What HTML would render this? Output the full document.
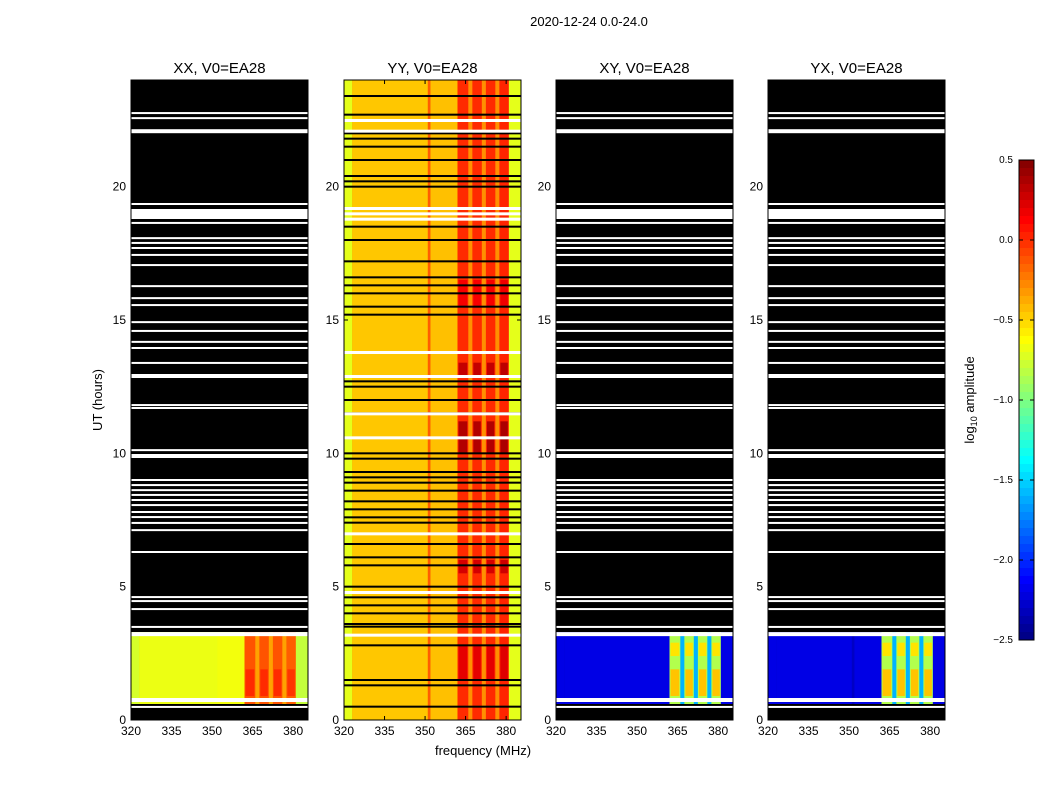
<!DOCTYPE html>
<html><head><meta charset="utf-8"><style>
body{margin:0;background:#fff;width:1050px;height:800px;overflow:hidden}
svg{display:block;font-family:"Liberation Sans","DejaVu Sans",sans-serif}
</style></head><body>
<svg id="fig" width="1050" height="800">
<text x="589" y="26" font-size="13" text-anchor="middle">2020-12-24 0.0-24.0</text>
<text x="483" y="755" font-size="13" text-anchor="middle">frequency (MHz)</text>
<text transform="translate(102,400) rotate(-90)" font-size="13" text-anchor="middle">UT (hours)</text>
<text transform="translate(974,400) rotate(-90)" font-size="13" text-anchor="middle">log<tspan font-size="9" dy="3">10</tspan><tspan dy="-3"> amplitude</tspan></text>
</svg>
<script>
const panelNames=["XX","YY","XY","YX"];
const bandEdges=[320,323,351,352,362,366,367.5,371,372.5,376,377.5,381,385.5];
const valXX=[-0.75,-0.68,-0.68,-0.66,-0.12,-0.35,-0.12,-0.35,-0.12,-0.35,-0.15,-0.8];
const valYY=[-0.7,-0.46,-0.15,-0.44,0.0,-0.3,0.0,-0.3,0.0,-0.3,0.02,-0.7];
const valXY=[-2.2,-2.2,-2.2,-2.2,-0.85,-1.6,-0.85,-1.6,-0.85,-1.6,-0.85,-2.2];
const valYX=[-2.2,-2.2,-2.3,-2.2,-0.85,-1.6,-0.85,-1.6,-0.85,-1.6,-0.85,-2.2];
const dataSpans=[[0.6,3.3],[0,24],[0.6,3.3],[0.6,3.3]];
const boostYY=[[10.0,11.2,0.35],[12.9,13.4,0.3],[5.5,6.0,0.25],[1.5,2.8,0.2],[15.5,16.5,0.15]];
const boostX=[[0.9,1.9,0.4],[2.4,2.9,0.3]];
const boostXX=[[0.9,1.9,0.12]];
const whiteLines=[22.76,22.57,22.08,19.35,19.05,18.9,18.64,18.07,17.89,17.7,17.44,17.06,16.27,15.82,15.56,14.92,14.59,14.18,13.95,13.39,12.9,11.81,11.7,10.12,9.9,9.0,8.81,8.62,8.44,8.25,8.06,7.8,7.61,7.39,7.12,6.3,4.61,4.46,4.16,3.49,3.22,0.75,0.49];
const whiteWidth=[1,1,2,1,3,3,1,1,1,1,1,1,1,1,1,1,1,1,1,1,2,1,1,1,2,1,1,1,1,1,1,1,1,1,1,1,1,1,1,1,2,2,1];
const blackYY=[0.5,1.3,1.5,2.8,3.5,3.6,4.0,4.3,4.6,5.0,5.8,6.1,6.6,7.4,7.6,7.9,8.2,8.6,8.9,9.1,9.3,9.8,10.0,11.5,12.0,12.5,12.7,15.2,15.5,16.0,16.3,16.6,17.2,18.0,18.5,20.0,20.2,20.4,21.0,21.5,21.8,22.0,22.7,23.4];
const whiteYY=[22.5,22.1,19.2,19.0,18.8,13.8,12.9,10.6,11.5,7.0,4.8,3.2];
const xTicks=[320,335,350,365,380];
const yTicks=[0,5,10,15,20];
const cbTicks=[0.5,0.0,-0.5,-1.0,-1.5,-2.0,-2.5];
const cbLabels=["0.5","0.0","\u22120.5","\u22121.0","\u22121.5","\u22122.0","\u22122.5"];
const panelLeft=[131,344,556,768];
const PW=177, PT=80, PB=720, FMIN=320, FMAX=385.5, TMAX=24;
const CB={x:1019,w:15,top:160,bot:640,vmin:-2.5,vmax:0.5};
const NS="http://www.w3.org/2000/svg";
const fig=document.getElementById("fig");
function mk(tag,attrs,parent){const e=document.createElementNS(NS,tag);for(const k in attrs)e.setAttribute(k,attrs[k]);(parent||fig).appendChild(e);return e;}
function jet(v){let t=(v-CB.vmin)/(CB.vmax-CB.vmin);t=Math.max(0,Math.min(1,t));
 const r=Math.max(0,Math.min(1,1.5-Math.abs(4*t-3))),g=Math.max(0,Math.min(1,1.5-Math.abs(4*t-2))),b=Math.max(0,Math.min(1,1.5-Math.abs(4*t-1)));
 return `rgb(${Math.round(r*255)},${Math.round(g*255)},${Math.round(b*255)})`;}
const vals=[valXX,valYY,valXY,valYX];
const boosts=[boostXX,boostYY,boostX,boostX];
panelNames.forEach((nm,p)=>{
 const L=panelLeft[p];
 const xs=f=>L+(f-FMIN)/(FMAX-FMIN)*PW;
 const ys=t=>PB-t/TMAX*(PB-PT);
 const g=mk("g",{});
 
 
 mk("rect",{x:L,y:PT,width:PW,height:PB-PT,fill:"#000"},g);
 const sp=dataSpans[p];
 for(let b=0;b<vals[p].length;b++){
  const r=mk("rect",{x:xs(bandEdges[b]),y:ys(sp[1]),width:xs(bandEdges[b+1])-xs(bandEdges[b])+0.3,height:ys(sp[0])-ys(sp[1]),fill:jet(vals[p][b])},g);
  
  
  if(b>=4&&b<=10&&b%2===0){boosts[p].forEach(bs=>{
   const c=mk("rect",{x:xs(bandEdges[b])+1,y:ys(bs[1]),width:xs(bandEdges[b+1])-xs(bandEdges[b])-2,height:ys(bs[0])-ys(bs[1]),fill:jet(vals[p][b]+bs[2])},g);
   
   
  });}
 }
 if(p===1){
  blackYY.forEach(t=>{const e=mk("rect",{x:L,y:ys(t)-1,width:PW,height:2,fill:"#000"},g);
   
   });
  whiteYY.forEach(t=>{const e=mk("rect",{x:L,y:ys(t)-1,width:PW,height:3,fill:"#fff"},g);
   
   });
 } else {
  whiteLines.forEach((t,i)=>{const w=whiteWidth[i]*2;const e=mk("rect",{x:L,y:ys(t)-w/2,width:PW,height:w,fill:"#fff"},g);
   
   });
 }
 mk("rect",{x:L,y:PT,width:PW,height:PB-PT,fill:"none",stroke:"#000","stroke-width":1},g);
 xTicks.forEach(f=>{const x=xs(f);mk("line",{x1:x,x2:x,y1:PB,y2:PB-4,stroke:"#000"},g);mk("line",{x1:x,x2:x,y1:PT,y2:PT+4,stroke:"#000"},g);
  const t=mk("text",{x:x,y:PB+15,"font-size":12,"text-anchor":"middle"},g);t.textContent=f;
  
  });
 yTicks.forEach(v=>{const y=ys(v);mk("line",{x1:L,x2:L+4,y1:y,y2:y,stroke:"#000"},g);mk("line",{x1:L+PW,x2:L+PW-4,y1:y,y2:y,stroke:"#000"},g);
  const t=mk("text",{x:L-5,y:y+4,"font-size":12,"text-anchor":"end"},g);t.textContent=v;
  
  });
 const ti=mk("text",{x:L+PW/2,y:73,"font-size":15,"text-anchor":"middle"},g);ti.textContent=nm+", V0=EA28";
 
 
});
const cb=mk("g",{});


const N=60;
for(let i=0;i<N;i++){const h=(CB.bot-CB.top)/N;mk("rect",{x:CB.x,y:CB.top+i*h,width:CB.w,height:h+0.5,fill:jet(CB.vmax-(i+0.5)/N*(CB.vmax-CB.vmin))},cb);}
mk("rect",{x:CB.x,y:CB.top,width:CB.w,height:CB.bot-CB.top,fill:"none",stroke:"#000"},cb);
cbTicks.forEach((v,i)=>{const y=CB.top+(CB.vmax-v)/(CB.vmax-CB.vmin)*(CB.bot-CB.top);
 mk("line",{x1:CB.x,x2:CB.x+4,y1:y,y2:y,stroke:"#000"},cb);mk("line",{x1:CB.x+CB.w,x2:CB.x+CB.w-4,y1:y,y2:y,stroke:"#000"},cb);
 const t=mk("text",{x:CB.x-6,y:y+3,"font-size":10,"text-anchor":"end"},cb);t.textContent=cbLabels[i];
 
 });
</script>
</body></html>
